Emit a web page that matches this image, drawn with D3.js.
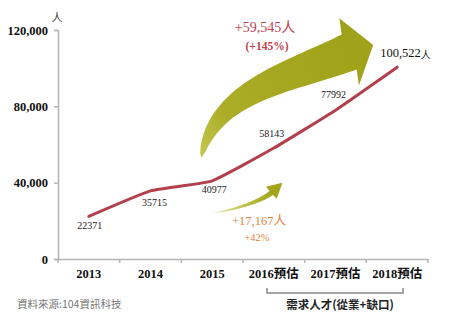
<!DOCTYPE html>
<html>
<head>
<meta charset="utf-8">
<script src="https://cdn.jsdelivr.net/npm/d3@7"></script>
<style>
  body { margin: 0; background: #fff; }
  svg { display: block; }
</style>
</head>
<body>
<div id="chart"></div>
<script>
// data
const categories = ['2013', '2014', '2015', '2016預估', '2017預估', '2018預估'];
const talent = [22371, 35715, 40977, 58143, 77992, 100522];
const valueLabels = ['22371', '35715', '40977', '58143', '77992', '100,522'];
const yTicks = [0, 40000, 80000, 120000];
const forecastCats = ['2016預估', '2017預估', '2018預估'];
const gainLabels = ['+59,545人', '(+145%)', '+17,167人', '+42%'];

const W = 449;
const H = 320;
const margin = { top: 30, right: 21, bottom: 61, left: 58 };

const svg = d3.select('#chart').append('svg')
  .attr('width', W)
  .attr('height', H);

const x = d3.scaleBand()
  .domain(categories)
  .range([margin.left, W - margin.right]);

const y = d3.scaleLinear()
  .domain([0, 120000])
  .range([H - margin.bottom, margin.top]);

const cx = d => x(d) + x.bandwidth() / 2;

// gradients for the arrows
const defs = svg.append('defs');
function grad(id, x1, y1, x2, y2, stops) {
  const g = defs.append('linearGradient')
    .attr('id', id)
    .attr('gradientUnits', 'userSpaceOnUse')
    .attr('x1', x1).attr('y1', y1).attr('x2', x2).attr('y2', y2);
  stops.forEach(s => g.append('stop').attr('offset', s[0]).attr('stop-color', s[1]));
}

// curved arrow: cubic centerline, body widening from the tail, triangular head
function curvedArrow(t0, c1, c2, b, opts) {
  const bez = (t) => {
    const mt = 1 - t;
    return [
      mt * mt * mt * t0[0] + 3 * mt * mt * t * c1[0] + 3 * mt * t * t * c2[0] + t * t * t * b[0],
      mt * mt * mt * t0[1] + 3 * mt * mt * t * c1[1] + 3 * mt * t * t * c2[1] + t * t * t * b[1],
    ];
  };
  const tan = (t) => {
    const mt = 1 - t;
    const dx = 3 * mt * mt * (c1[0] - t0[0]) + 6 * mt * t * (c2[0] - c1[0]) + 3 * t * t * (b[0] - c2[0]);
    const dy = 3 * mt * mt * (c1[1] - t0[1]) + 6 * mt * t * (c2[1] - c1[1]) + 3 * t * t * (b[1] - c2[1]);
    const l = Math.hypot(dx, dy) || 1;
    return [dx / l, dy / l];
  };
  const upper = [];
  const lower = [];
  const n = 40;
  for (let i = 0; i <= n; i += 1) {
    const t = i / n;
    const p = bez(t);
    const u = tan(t);
    const hw = (opts.width / 2) * Math.pow(t, opts.power);
    upper.push([p[0] + u[1] * hw, p[1] - u[0] * hw]);
    lower.push([p[0] - u[1] * hw, p[1] + u[0] * hw]);
  }
  const u = opts.headDir;
  const l = Math.hypot(u[0], u[1]);
  const ux = u[0] / l;
  const uy = u[1] / l;
  const headA = [b[0] + uy * opts.headHalf, b[1] - ux * opts.headHalf];
  const headB = [b[0] - uy * opts.headHalf, b[1] + ux * opts.headHalf];
  const tip = [b[0] + ux * opts.headLen, b[1] + uy * opts.headLen];
  const pts = upper.concat([headA, tip, headB]).concat(lower.reverse());
  return d3.line()(pts) + 'Z';
}

// arrows anchored to the data scales
const bigTail = [cx('2015') - 11, y(53000)];
const bigBase = [cx('2018預估') - 48, y(108500)];
grad('gBig', bigTail[0], bigTail[1], bigBase[0], bigBase[1],
  [[0, '#c4c650'], [0.25, '#abad26'], [1, '#a0a21a']]);
svg.append('path')
  .attr('d', curvedArrow(bigTail, [bigTail[0] + 13, y(88000)], [bigBase[0] - 60, y(95000)], bigBase,
    { width: 38, power: 0.6, headDir: [0.96, -0.28], headHalf: 35, headLen: 25 }))
  .attr('fill', 'url(#gBig)');

const smallTail = [cx('2015') - 1, y(24200)];
const smallBase = [cx('2016預估') - 2.5, y(34700)];
grad('gSmall', smallTail[0], smallTail[1], smallBase[0], smallBase[1],
  [[0, '#f2f2c4'], [0.5, '#c2c44e'], [1, '#a2a41c']]);
svg.append('path')
  .attr('d', curvedArrow(smallTail, [smallTail[0] + 23, y(25300)], [smallBase[0] - 9, y(30700)], smallBase,
    { width: 5.5, power: 0.8, headDir: [11.5, -10.5], headHalf: 8, headLen: 15 }))
  .attr('fill', 'url(#gSmall)');

// axes
const yAxis = svg.append('g')
  .attr('transform', `translate(${margin.left},0)`)
  .call(d3.axisLeft(y).tickValues(yTicks).tickSize(4).tickPadding(6)
    .tickFormat(d3.format(',')));
yAxis.select('.domain').attr('stroke', '#b5b5b5').attr('stroke-width', 1.5);
yAxis.selectAll('.tick line').attr('stroke', '#b5b5b5').attr('stroke-width', 1.5);
yAxis.selectAll('.tick text')
  .attr('font-size', 12.5)
  .attr('font-family', '"Liberation Serif", serif')
  .attr('font-weight', 'bold')
  .attr('fill', '#111');

const xAxis = svg.append('g')
  .attr('transform', `translate(0,${y(0)})`)
  .call(d3.axisBottom(x).tickSize(0).tickPadding(10).tickSizeOuter(0));
xAxis.select('.domain').attr('stroke', '#b5b5b5').attr('stroke-width', 1.5);
xAxis.selectAll('.tick text')
  .attr('font-size', 12.5)
  .attr('font-family', '"Liberation Serif", "Noto Sans CJK TC", serif')
  .attr('font-weight', 'bold')
  .attr('fill', '#111');
// boundary ticks between bands
xAxis.selectAll('line.bound')
  .data(categories.map(d => x(d)).concat([x.range()[1]]))
  .enter().append('line')
  .attr('class', 'bound')
  .attr('x1', d => d).attr('x2', d => d)
  .attr('y1', 0).attr('y2', 4)
  .attr('stroke', '#b5b5b5').attr('stroke-width', 1.5);

// unit
svg.append('text')
  .attr('x', margin.left - 1).attr('y', margin.top - 8)
  .attr('text-anchor', 'middle')
  .attr('font-family', '"Noto Sans CJK TC", sans-serif')
  .attr('font-size', 11)
  .attr('fill', '#444')
  .text('人');

// the line
const line = d3.line()
  .x((d, i) => cx(categories[i]))
  .y(d => y(d))
  .curve(d3.curveCardinal.tension(0.6));
svg.append('path')
  .datum(talent)
  .attr('d', line)
  .attr('fill', 'none')
  .attr('stroke', '#b2404c')
  .attr('stroke-width', 3)
  .attr('stroke-linecap', 'round');

// value labels: below for the actuals, above for the forecasts
const labelOffset = [[1, 13], [4, 15], [2, 12], [-2, -11], [-2, -12]];
svg.selectAll('text.val')
  .data(talent.slice(0, 5))
  .enter().append('text')
  .attr('class', 'val')
  .attr('x', (d, i) => cx(categories[i]) + labelOffset[i][0])
  .attr('y', (d, i) => y(d) + labelOffset[i][1])
  .attr('text-anchor', 'middle')
  .attr('font-family', '"Liberation Serif", serif')
  .attr('font-size', 10)
  .attr('fill', '#222')
  .text((d, i) => valueLabels[i]);

const last = svg.append('text')
  .attr('x', cx('2018預估') - 17)
  .attr('y', y(talent[5]) - 10)
  .attr('font-family', '"Liberation Serif", serif')
  .attr('font-size', 12.5)
  .attr('fill', '#111');
last.append('tspan').text(valueLabels[5]);
last.append('tspan')
  .attr('font-family', '"Noto Sans CJK TC", sans-serif')
  .attr('font-size', 10)
  .attr('dy', 2)
  .text('人');

// growth annotations
svg.append('text')
  .attr('x', 265).attr('y', 32)
  .attr('text-anchor', 'middle')
  .attr('font-family', '"Liberation Serif", "Noto Sans CJK TC", serif')
  .attr('font-size', 14)
  .attr('fill', '#c0424a')
  .text(gainLabels[0]);
svg.append('text')
  .attr('x', 267).attr('y', 50)
  .attr('text-anchor', 'middle')
  .attr('font-family', '"Liberation Serif", serif')
  .attr('font-size', 11.5)
  .attr('font-weight', 'bold')
  .attr('fill', '#c0424a')
  .text(gainLabels[1]);

svg.append('text')
  .attr('x', 259).attr('y', 225)
  .attr('text-anchor', 'middle')
  .attr('font-family', '"Liberation Serif", "Noto Sans CJK TC", serif')
  .attr('font-size', 12.5)
  .attr('fill', '#e0843c')
  .text(gainLabels[2]);
svg.append('text')
  .attr('x', 257).attr('y', 241)
  .attr('text-anchor', 'middle')
  .attr('font-family', '"Liberation Serif", serif')
  .attr('font-size', 10.5)
  .attr('fill', '#e0843c')
  .text(gainLabels[3]);

// bracket under the forecast years
const bx0 = x(forecastCats[0]) + 24;
const bx1 = x(forecastCats[2]) + x.bandwidth() - 25;
const by = 293;
svg.append('path')
  .attr('d', `M${bx0},${by - 5}V${by}H${bx1}V${by - 5}`)
  .attr('fill', 'none')
  .attr('stroke', '#888')
  .attr('stroke-width', 1.5);
svg.append('text')
  .attr('x', (bx0 + bx1) / 2 + 5).attr('y', 309)
  .attr('text-anchor', 'middle')
  .attr('font-family', '"Noto Sans CJK TC", sans-serif')
  .attr('font-size', 11.5)
  .attr('font-weight', 'bold')
  .attr('fill', '#222')
  .text('需求人才(從業+缺口)');

// source
svg.append('text')
  .attr('x', 17).attr('y', 308)
  .attr('font-family', '"Noto Sans CJK TC", sans-serif')
  .attr('font-size', 10.5)
  .attr('fill', '#777')
  .text('資料來源:104資訊科技');
</script>
</body>
</html>
